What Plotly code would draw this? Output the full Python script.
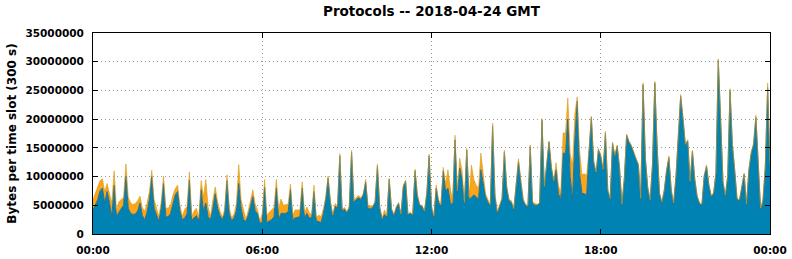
import pandas as pd
import plotly.graph_objects as go

# 5-minute time slots over 2018-04-24 (values in millions of bytes per slot)
slot_start = "2018-04-24 00:00"
n_slots = 289

blue_m = [
    4.2, 5.0, 6.0, 7.5, 8.0, 5.4, 7.4, 5.5, 3.0, 8.5, 3.0, 3.8, 4.3, 5.0, 10.1, 4.5,
    3.6, 3.4, 3.5, 4.0, 5.4, 3.2, 2.5, 3.8, 6.0, 10.0, 4.5, 3.2, 2.2, 4.5, 8.8, 3.0,
    3.0, 3.6, 5.0, 6.8, 7.4, 4.0, 2.5, 2.8, 3.5, 9.4, 2.4, 2.8, 3.2, 2.2, 7.7, 4.0,
    5.4, 3.0, 2.5, 4.5, 7.0, 4.5, 3.2, 2.5, 3.5, 9.3, 3.5, 2.3, 2.8, 4.0, 8.8, 4.5,
    2.5, 2.2, 3.2, 4.8, 6.5, 4.0, 3.6, 1.9, 2.0, 8.1, 1.9, 2.3, 2.5, 3.0, 8.0, 2.5,
    3.6, 3.6, 3.6, 3.8, 7.7, 2.5, 2.8, 2.9, 3.0, 8.0, 2.8, 3.6, 2.8, 2.8, 7.4, 2.3,
    2.2, 2.0, 3.5, 6.0, 9.7, 5.5, 3.0, 4.8, 4.5, 13.6, 4.0, 4.3, 3.7, 4.5, 14.2, 5.5,
    6.0, 6.3, 6.0, 6.8, 9.1, 4.4, 4.4, 4.6, 5.5, 11.8, 4.5, 2.5, 3.4, 2.9, 9.5, 4.3,
    3.2, 4.5, 5.3, 3.3, 8.2, 9.1, 3.3, 3.6, 3.2, 11.0, 6.5, 5.0, 4.8, 3.8, 7.0, 13.6,
    4.5, 2.8, 8.0, 5.5, 4.8, 11.0, 7.4, 8.0, 5.5, 5.0, 16.4, 7.0, 11.5, 9.5, 5.0, 14.6,
    6.0, 6.5, 6.8, 6.5, 6.0, 11.2, 8.5, 6.5, 5.5, 4.8, 18.8, 6.5, 3.6, 5.0, 6.0, 14.3,
    8.0, 5.8, 5.5, 4.2, 8.5, 12.6, 9.0, 5.8, 5.0, 4.7, 15.2, 5.3, 5.0, 5.0, 5.3, 19.8,
    8.0, 12.5, 16.0, 11.5, 9.0, 11.2, 7.0, 6.0, 14.1, 14.0, 20.0, 10.0, 6.0, 16.5, 23.1, 10.5,
    7.1, 7.0, 6.8, 14.3, 20.3, 12.5, 10.5, 14.6, 13.5, 11.0, 17.6, 7.5, 6.0, 15.8, 13.5, 15.3,
    11.5, 5.0, 9.5, 17.2, 16.0, 15.3, 14.0, 13.0, 12.0, 6.0, 26.0, 13.0, 8.0, 5.8, 12.0, 26.3,
    15.0, 7.0, 5.4, 7.5, 11.0, 13.3, 7.5, 5.2, 10.0, 16.5, 24.0, 20.0, 15.4, 16.2, 9.0, 14.4,
    9.5, 6.5, 5.3, 5.0, 10.0, 11.8, 8.5, 6.5, 7.0, 10.5, 30.2, 20.0, 9.0, 6.5, 10.0, 25.0,
    15.5, 11.0, 6.0, 5.8, 8.0, 10.4, 5.0, 11.0, 14.0, 15.5, 20.3, 11.0, 4.2, 5.5, 11.5, 25.5,
    12.0,
]

orange_m = [
    1.8, 2.0, 2.0, 1.8, 1.6, 2.0, 1.4, 1.5, 2.4, 2.5, 1.0, 1.8, 1.7, 1.4, 2.1, 2.0,
    1.8, 1.7, 1.8, 1.8, 1.2, 1.4, 1.4, 1.6, 1.4, 1.1, 1.5, 1.2, 0.9, 1.0, 1.3, 1.5,
    1.5, 1.5, 1.8, 1.1, 1.1, 1.0, 0.6, 1.5, 1.3, 1.4, 0.7, 1.2, 1.3, 0.6, 1.6, 2.5,
    4.1, 1.6, 0.6, 1.5, 1.2, 1.2, 0.8, 0.4, 0.8, 1.0, 1.0, 0.5, 0.7, 1.3, 3.3, 1.5,
    1.7, 0.4, 0.8, 1.2, 1.2, 1.2, 0.6, 0.3, 1.6, 1.4, 1.4, 1.5, 1.7, 1.6, 1.5, 2.0,
    2.5, 1.4, 1.5, 1.4, 1.0, 0.8, 1.4, 1.3, 1.2, 1.1, 0.8, 1.1, 0.9, 0.5, 1.1, 0.5,
    1.1, 1.0, 0.9, 0.5, 0.4, 0.3, 0.3, 0.5, 0.4, 0.4, 0.3, 0.3, 0.2, 0.3, 0.4, 0.3,
    0.4, 0.4, 0.3, 0.3, 0.4, 0.5, 0.5, 0.3, 0.2, 0.4, 0.2, 0.3, 0.8, 0.2, 0.2, 0.1,
    0.2, 0.3, 0.2, 0.2, 0.3, 0.3, 0.2, 0.2, 0.2, 0.3, 0.5, 0.1, 0.2, 0.2, 0.3, 0.3,
    0.5, 0.3, 0.5, 0.5, 0.3, 0.6, 1.4, 3.2, 2.5, 0.6, 0.8, 0.5, 1.7, 1.5, 0.5, 0.3,
    0.5, 5.5, 2.7, 2.0, 2.0, 2.9, 2.0, 0.5, 0.5, 0.4, 0.5, 0.5, 0.3, 0.3, 0.3, 0.3,
    0.3, 0.2, 0.3, 0.2, 0.3, 0.5, 0.4, 0.3, 0.2, 0.3, 0.3, 0.3, 0.3, 0.2, 0.2, 0.3,
    0.3, 0.3, 0.2, 0.3, 0.3, 1.2, 1.5, 1.0, 3.5, 3.6, 3.7, 4.0, 6.0, 4.5, 0.8, 4.0,
    3.2, 3.5, 3.4, 0.3, 0.2, 0.3, 0.3, 0.3, 0.3, 0.3, 0.3, 0.3, 0.2, 0.2, 0.2, 0.2,
    0.2, 0.2, 0.2, 0.2, 0.2, 0.2, 0.2, 0.2, 0.2, 0.2, 0.3, 0.3, 0.2, 0.2, 0.3, 0.3,
    0.3, 0.2, 0.2, 0.2, 0.2, 0.3, 0.2, 0.2, 0.3, 0.3, 0.3, 0.3, 0.2, 0.2, 0.2, 0.2,
    0.2, 0.2, 0.2, 0.2, 0.2, 0.2, 0.2, 0.2, 0.2, 0.2, 0.3, 0.3, 0.2, 0.3, 0.3, 0.3,
    0.3, 0.2, 0.2, 0.2, 0.2, 0.2, 0.2, 0.2, 0.3, 0.3, 0.4, 0.3, 0.3, 0.7, 0.8, 0.8,
    0.2,
]

y_tick_vals = [0, 5000000, 10000000, 15000000, 20000000, 25000000, 30000000, 35000000]
y_tick_text = ["0", "5000000", "10000000", "15000000", "20000000", "25000000", "30000000", "35000000"]
x_tick_text = ["00:00", "06:00", "12:00", "18:00", "00:00"]

times = pd.date_range(slot_start, periods=n_slots, freq="5min")
blue = [v * 1e6 for v in blue_m]
orange = [v * 1e6 for v in orange_m]
x_tick_vals = pd.date_range(slot_start, periods=5, freq="6h")

fig = go.Figure()
fig.add_trace(go.Scatter(
    x=times, y=blue, mode="lines", stackgroup="p",
    line=dict(color="#2A6F8C", width=1), fillcolor="#0083B3",
    hoverinfo="skip", showlegend=False,
))
fig.add_trace(go.Scatter(
    x=times, y=orange, mode="lines", stackgroup="p",
    line=dict(color="#D49C1C", width=0.6), fillcolor="#FBA518",
    hoverinfo="skip", showlegend=False,
))

tick_font = dict(family="DejaVu Sans", size=10.5, color="black", weight="bold")
grid_style = dict(showgrid=True, gridcolor="#9A9A9A", griddash="1px,3px", gridwidth=1)

fig.update_layout(
    template="none",
    width=792, height=259,
    margin=dict(l=93, r=22, t=33, b=25, autoexpand=False),
    paper_bgcolor="white", plot_bgcolor="white",
    title=dict(text="Protocols -- 2018-04-24 GMT", x=0.5, xref="paper", xanchor="center",
               y=1 - 11.7 / 259, yref="container", yanchor="middle",
               font=dict(family="DejaVu Sans", size=13.5, color="black", weight="bold")),
    showlegend=False,
)
fig.update_xaxes(
    range=[x_tick_vals[0], x_tick_vals[-1]],
    tickvals=list(x_tick_vals), ticktext=x_tick_text,
    ticks="inside", ticklen=5, tickcolor="black", tickwidth=1,
    showline=True, linecolor="black", linewidth=1, mirror="allticks",
    tickfont=tick_font, zeroline=False, automargin=False, ticklabelstandoff=6,
    **grid_style,
)
fig.update_yaxes(
    range=[0, 35000000],
    tickvals=y_tick_vals, ticktext=y_tick_text,
    ticks="inside", ticklen=5, tickcolor="black", tickwidth=1,
    showline=True, linecolor="black", linewidth=1, mirror="allticks",
    tickfont=tick_font, zeroline=False, automargin=False, ticklabelstandoff=6,
    title=dict(text="Bytes per time slot (300 s)", standoff=6,
               font=dict(family="DejaVu Sans", size=12, color="black", weight="bold")),
    **grid_style,
)

fig.write_html("out.html")
